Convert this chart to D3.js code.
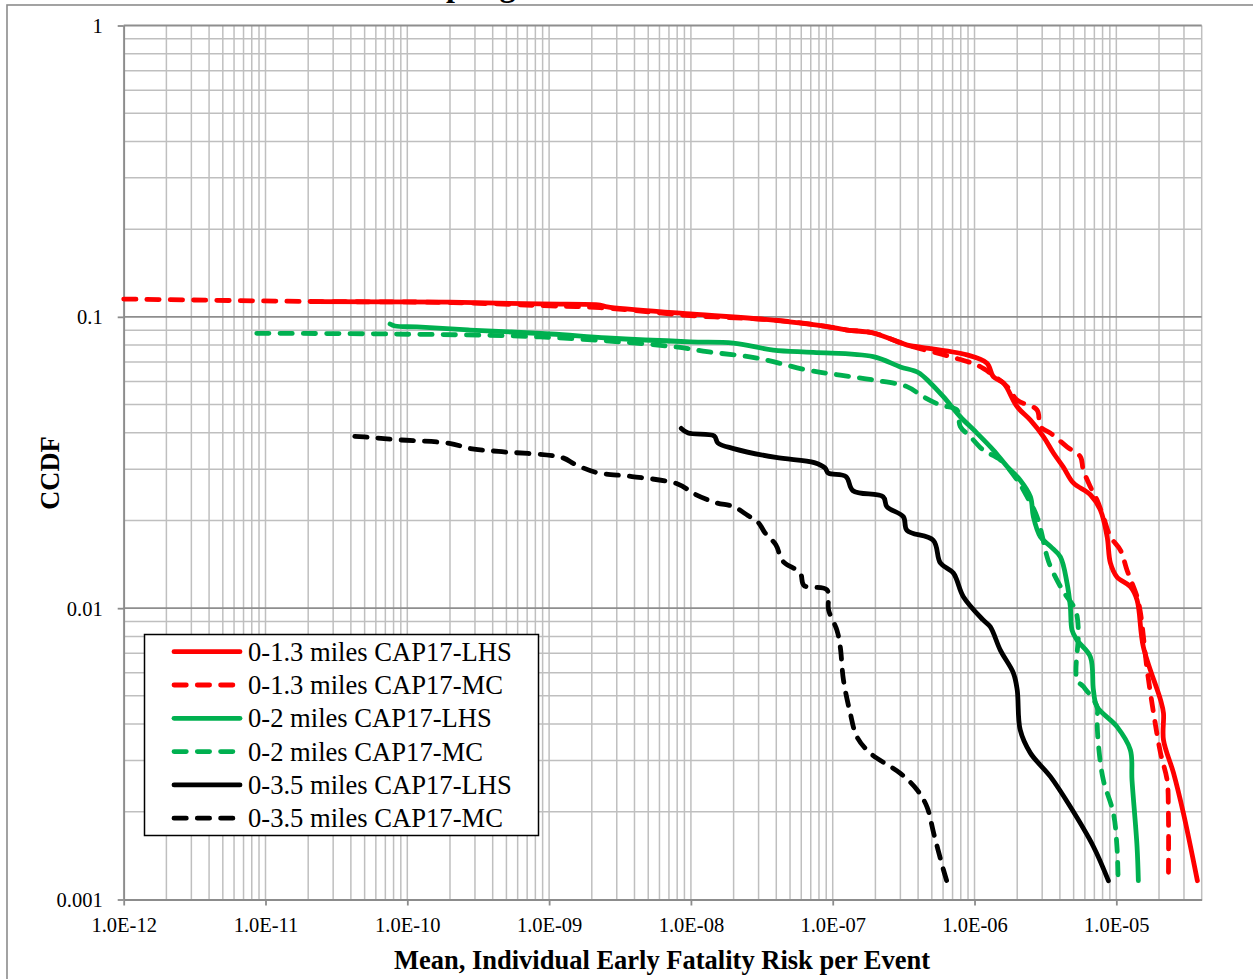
<!DOCTYPE html>
<html><head><meta charset="utf-8">
<script src="https://cdn.jsdelivr.net/npm/d3@7"></script>
<style>body{margin:0;background:#fff}svg{display:block}</style>
</head><body>
<svg id="c" width="1253" height="979"></svg>
<script>
// ---- data ----
const xTickValues = [1e-12,1e-11,1e-10,1e-9,1e-8,1e-7,1e-6,1e-5];
const xTickLabels = ["1.0E-12","1.0E-11","1.0E-10","1.0E-09","1.0E-08","1.0E-07","1.0E-06","1.0E-05"];
const yTickValues = [1,0.1,0.01,0.001];
const yTickLabels = ["1","0.1","0.01","0.001"];
const seriesNames = ["0-1.3 miles CAP17-LHS","0-1.3 miles CAP17-MC","0-2 miles CAP17-LHS","0-2 miles CAP17-MC","0-3.5 miles CAP17-LHS","0-3.5 miles CAP17-MC"];

const risk13LHS = [2.17e-11,2.0e-10,8.65e-10,2.29e-9,2.57e-9,9.9e-9,3.81e-8,7.78e-8,1.27e-7,1.93e-7,3.36e-7,3.93e-7,8.85e-7,1.225e-6,1.357e-6,1.60e-6,2.0e-6,2.48e-6,3.06e-6,3.60e-6,4.23e-6,4.98e-6,6.56e-6,7.72e-6,8.61e-6,9.08e-6,1.01e-5,1.256e-5,1.40e-5,1.55e-5,2.05e-5,2.15e-5,2.15e-5,2.53e-5,2.97e-5,3.73e-5];
const ccdf13LHS = [0.1127,0.1123,0.1107,0.1098,0.1081,0.1023,0.0975,0.0937,0.0901,0.0880,0.0800,0.0790,0.0740,0.0693,0.0623,0.0593,0.0491,0.0442,0.0388,0.0341,0.0305,0.0269,0.0245,0.0217,0.0176,0.0143,0.0128,0.01185,0.01067,0.00737,0.00484,0.00437,0.00353,0.00272,0.00198,0.00116];

const risk13MC = [1e-12,2.06e-11,2.0e-10,1.02e-9,2.29e-9,9.9e-9,3.81e-8,7.78e-8,1.27e-7,1.93e-7,3.36e-7,6.75e-7,1.04e-6,1.29e-6,1.70e-6,2.0e-6,2.76e-6,2.91e-6,3.43e-6,4.49e-6,5.58e-6,5.85e-6,6.56e-6,7.31e-6,8.10e-6,9.08e-6,1.07e-5,1.19e-5,1.40e-5,1.48e-5,1.65e-5,1.83e-5,2.05e-5,2.28e-5,2.33e-5,2.33e-5];
const ccdf13MC = [0.1151,0.1129,0.1120,0.1090,0.1075,0.1010,0.0975,0.0937,0.0901,0.0880,0.0800,0.0730,0.0683,0.0641,0.0576,0.0518,0.0479,0.0420,0.0399,0.0358,0.0331,0.0298,0.0261,0.0235,0.0206,0.0176,0.0158,0.0135,0.01095,0.00963,0.00613,0.00437,0.00318,0.00257,0.00198,0.00116];

const risk2LHS = [7.56e-11,8.2e-11,1.17e-10,2.77e-10,1.02e-9,2.57e-9,9.9e-9,1.99e-8,3.81e-8,7.29e-8,1.93e-7,3.0e-7,4.01e-7,4.88e-7,6.03e-7,7.94e-7,1.04e-6,1.357e-6,1.70e-6,2.10e-6,2.48e-6,2.60e-6,2.91e-6,3.43e-6,4.03e-6,4.49e-6,4.74e-6,4.87e-6,5.28e-6,6.56e-6,6.89e-6,7.31e-6,1.01e-5,1.256e-5,1.29e-5,1.40e-5,1.43e-5];
const ccdf2LHS = [0.0945,0.0930,0.0923,0.0901,0.0873,0.0846,0.0821,0.0813,0.0769,0.0755,0.0730,0.0673,0.0644,0.0593,0.0532,0.0454,0.0399,0.0349,0.0306,0.0275,0.0241,0.0206,0.0176,0.0163,0.0150,0.0122,0.0101,0.00841,0.00777,0.00681,0.00524,0.00459,0.00392,0.00326,0.00257,0.00152,0.00116];

const risk2MC = [8.68e-12,7.56e-11,8.65e-10,7.5e-9,1.30e-8,2.92e-8,6.58e-8,1.13e-7,1.93e-7,3.34e-7,4.35e-7,5.74e-7,7.52e-7,7.94e-7,9.34e-7,1.15e-6,1.52e-6,2.0e-6,2.35e-6,2.76e-6,3.25e-6,3.43e-6,4.16e-6,5.14e-6,5.40e-6,5.28e-6,5.85e-6,7.31e-6,7.31e-6,7.5e-6,8.10e-6,9.53e-6,1.01e-5,1.03e-5];
const ccdf2MC = [0.0878,0.0873,0.0853,0.0790,0.0759,0.0722,0.0657,0.0631,0.0607,0.0576,0.0532,0.0498,0.0479,0.0420,0.0388,0.0349,0.0323,0.0275,0.0241,0.0206,0.0150,0.0139,0.01155,0.00986,0.00841,0.00567,0.00538,0.00459,0.00413,0.00334,0.00257,0.00198,0.00152,0.00116];

const risk35LHS = [8.55e-9,9.57e-9,1.46e-8,1.55e-8,2.0e-8,3.97e-8,7.41e-8,8.82e-8,9.30e-8,1.24e-7,1.39e-7,2.27e-7,2.41e-7,3.15e-7,3.34e-7,5.12e-7,5.74e-7,7.09e-7,8.34e-7,1.15e-6,1.29e-6,1.52e-6,1.88e-6,2.0e-6,2.10e-6,2.48e-6,3.43e-6,4.74e-6,6.89e-6,8.79e-6];
const ccdf35LHS = [0.0414,0.0399,0.0390,0.0369,0.0353,0.0329,0.0316,0.0303,0.0291,0.0283,0.0253,0.0241,0.0223,0.0206,0.0185,0.0171,0.0143,0.0132,0.01095,0.00911,0.00864,0.00718,0.00599,0.00524,0.00382,0.00318,0.00264,0.00208,0.00152,0.00116];

const risk35MC = [4.26e-11,5.34e-11,8.9e-11,1.98e-10,2.79e-10,4.40e-10,1.23e-9,1.54e-9,2.17e-9,3.84e-9,8.06e-9,1.07e-8,1.51e-8,2.0e-8,2.52e-8,2.98e-8,3.34e-8,3.97e-8,4.45e-8,5.90e-8,6.27e-8,9.11e-8,9.35e-8,1.07e-7,1.13e-7,1.19e-7,1.33e-7,1.48e-7,1.84e-7,3.0e-7,3.93e-7,4.62e-7,5.15e-7,6.05e-7,6.40e-7];
const ccdf35MC = [0.0389,0.0386,0.0378,0.0368,0.0353,0.0345,0.0329,0.0311,0.0292,0.0283,0.0267,0.0246,0.0230,0.0223,0.0208,0.0197,0.0181,0.0165,0.0145,0.0132,0.01197,0.01155,0.00986,0.00841,0.00737,0.00567,0.00436,0.00362,0.00318,0.00271,0.00238,0.00208,0.00169,0.00126,0.00115];

const seriesColors = ["#ff0000","#ff0000","#00b050","#00b050","#000000","#000000"];
const seriesDashed = [false,true,false,true,false,true];
const seriesX = [risk13LHS,risk13MC,risk2LHS,risk2MC,risk35LHS,risk35MC];
const seriesY = [ccdf13LHS,ccdf13MC,ccdf2LHS,ccdf2MC,ccdf35LHS,ccdf35MC];

// ---- chart ----
const svg = d3.select("#c");
const FONT = "'Times New Roman','Liberation Serif',serif";
const L = 123.7, R = 1201.7, T = 25.5, B = 899.5;
const x = d3.scaleLog().domain([1e-12, 4e-5]).range([L, R]);
const y = d3.scaleLog().domain([0.001, 1]).range([B, T]);

// outer frame
svg.append("rect").attr("x",7).attr("y",5).attr("width",1300).attr("height",1100)
  .attr("fill","none").attr("stroke","#8c8c8c").attr("stroke-width",1.6);

// title (mostly cut off above the frame, as in the source image)
const title = svg.append("text").attr("y",-4).attr("x",0)
  .attr("font-family",FONT).attr("font-weight","bold").attr("font-size",32)
  .text("CAP17 LHS and MC Sampling Results");
{
  const node = title.node();
  const idx = node.textContent.indexOf("pling");
  const ext = node.getExtentOfChar(idx);
  title.attr("x", 455 - (ext.x + ext.width/2));
}

// grid values
const minorX = [];
for (let e = -12; e <= -5; e++) for (let m = 1; m <= 9; m++) { const v = m*Math.pow(10,e); if (v <= 4.0001e-5) minorX.push(v); }
const minorY = [];
for (let e = -3; e <= -1; e++) for (let m = 2; m <= 9; m++) minorY.push(m*Math.pow(10,e));

const g = svg.append("g");
g.selectAll("line.vx").data(minorX).join("line")
  .attr("x1",d=>x(d)).attr("x2",d=>x(d)).attr("y1",T).attr("y2",B)
  .attr("stroke","#bfbfbf").attr("stroke-width",1.5);
g.selectAll("line.hy").data(minorY).join("line")
  .attr("x1",L).attr("x2",R).attr("y1",d=>y(d)).attr("y2",d=>y(d))
  .attr("stroke","#bfbfbf").attr("stroke-width",1.5);
g.selectAll("line.hmaj").data([1,0.1,0.01]).join("line")
  .attr("x1",L).attr("x2",R).attr("y1",d=>y(d)).attr("y2",d=>y(d))
  .attr("stroke","#8e8e8e").attr("stroke-width",1.8);

// axes
const xAxis = d3.axisBottom(x).tickValues(xTickValues).tickFormat((d,i)=>xTickLabels[i]).tickSize(6).tickSizeOuter(0);
const gx = svg.append("g").attr("transform",`translate(0,${B})`).call(xAxis);
gx.select(".domain").attr("stroke","#8c8c8c").attr("stroke-width",1.8);
gx.selectAll(".tick line").attr("stroke","#8c8c8c").attr("stroke-width",1.8);
gx.selectAll(".tick text").attr("font-family",FONT).attr("font-size",20.5).attr("fill","#000")
  .attr("dy",null).attr("y",32);

const yAxis = d3.axisLeft(y).tickValues(yTickValues).tickFormat((d,i)=>yTickLabels[i]).tickSize(6).tickSizeOuter(0);
const gy = svg.append("g").attr("transform",`translate(${L},0)`).call(yAxis);
gy.select(".domain").attr("stroke","#8c8c8c").attr("stroke-width",1.8);
gy.selectAll(".tick line").attr("stroke","#8c8c8c").attr("stroke-width",1.8);
gy.selectAll(".tick text").attr("font-family",FONT).attr("font-size",20.5).attr("fill","#000")
  .attr("x",-21).attr("dy","0.34em");

// axis titles
svg.append("text").attr("x",662).attr("y",969).attr("text-anchor","middle")
  .attr("font-family",FONT).attr("font-weight","bold").attr("font-size",26.5)
  .text("Mean, Individual Early Fatality Risk per Event");
svg.append("text").attr("transform","translate(59,473) rotate(-90)").attr("text-anchor","middle")
  .attr("font-family",FONT).attr("font-weight","bold").attr("font-size",26.5)
  .text("CCDF");

// clip
svg.append("clipPath").attr("id","pc").append("rect").attr("x",L-3).attr("y",T).attr("width",R-L+3).attr("height",B-T+3);

const line = d3.line().x(d=>x(d[0])).y(d=>y(d[1])).curve(d3.curveCatmullRom.alpha(0.5));
const plot = svg.append("g").attr("clip-path","url(#pc)");
seriesX.forEach((xs,i)=>{
  const pts = xs.map((v,k)=>[v, seriesY[i][k]]);
  plot.append("path").attr("d",line(pts)).attr("fill","none")
    .attr("stroke",seriesColors[i]).attr("stroke-width",4.8)
    .attr("stroke-linecap","round").attr("stroke-linejoin","round")
    .attr("stroke-dasharray",seriesDashed[i]?"12.3,11":null);
});

// legend
const lg = svg.append("g");
lg.append("rect").attr("x",144.5).attr("y",634.5).attr("width",394).attr("height",201)
  .attr("fill","#fff").attr("stroke","#000").attr("stroke-width",1.5);
seriesNames.forEach((name,i)=>{
  const cy = 651.7 + i*33.3;
  lg.append("line").attr("x1",174).attr("x2",seriesDashed[i]?233:240).attr("y1",cy).attr("y2",cy)
    .attr("stroke",seriesColors[i]).attr("stroke-width",4.8).attr("stroke-linecap","round")
    .attr("stroke-dasharray",seriesDashed[i]?"12.3,11":null);
  lg.append("text").attr("x",248).attr("y",cy+9).attr("font-family",FONT).attr("font-size",26.6)
    .attr("fill","#000").text(name);
});
</script>
</body></html>
